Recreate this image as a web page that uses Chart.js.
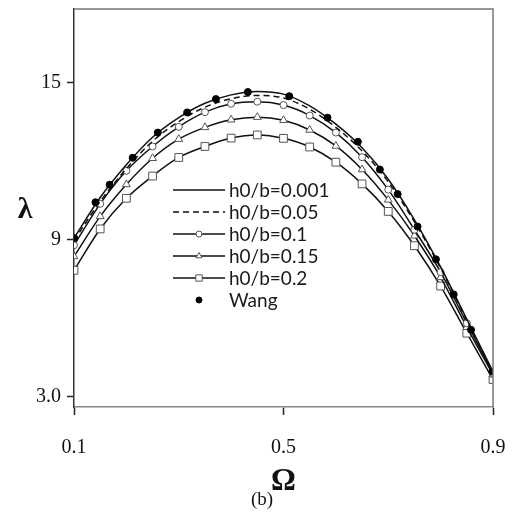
<!DOCTYPE html>
<html>
<head>
<meta charset="utf-8">
<script src="https://cdn.jsdelivr.net/npm/chart.js@4.4.1/dist/chart.umd.min.js"></script>
<style>
  html, body { margin: 0; padding: 0; background: #fff; }
  #wrap { width: 513px; height: 515px; }
</style>
</head>
<body>
<div id="wrap"><canvas id="lambdaChart" width="513" height="515"></canvas></div>
<script>
// Omega grid for the computed curves
const omega = [0.10, 0.15, 0.20, 0.25, 0.30, 0.35, 0.40, 0.45, 0.50, 0.55, 0.60, 0.65, 0.70, 0.75, 0.80, 0.85, 0.90];

// lambda for each h0/b
const h0001 = [9.05, 10.60, 11.85, 12.90, 13.65, 14.20, 14.52, 14.65, 14.55, 14.10, 13.40, 12.50, 11.30, 9.75, 7.95, 5.95, 3.95];
const h0005 = [8.95, 10.45, 11.70, 12.75, 13.50, 14.05, 14.37, 14.50, 14.40, 13.97, 13.28, 12.38, 11.20, 9.67, 7.90, 5.90, 3.93];
const h0010 = [8.78, 10.36, 11.62, 12.55, 13.30, 13.86, 14.18, 14.26, 14.13, 13.73, 13.08, 12.14, 10.90, 9.37, 7.75, 5.80, 3.88];
const h0015 = [8.35, 9.88, 11.10, 12.10, 12.83, 13.28, 13.57, 13.67, 13.55, 13.18, 12.57, 11.67, 10.51, 9.14, 7.55, 5.65, 3.83];
const h0020 = [7.82, 9.40, 10.57, 11.42, 12.13, 12.55, 12.87, 12.99, 12.86, 12.53, 11.95, 11.12, 10.07, 8.76, 7.22, 5.42, 3.65];

// Wang reference points
const wangOmega = [0.100, 0.141, 0.168, 0.212, 0.260, 0.316, 0.371, 0.432, 0.511, 0.584, 0.642, 0.684, 0.718, 0.756, 0.791, 0.825, 0.858, 0.899];
const wangLambda = [9.05, 10.42, 11.09, 12.12, 13.08, 13.85, 14.36, 14.63, 14.47, 13.65, 12.73, 11.67, 10.73, 9.49, 8.24, 6.90, 5.55, 3.95];

const seriesLabels = ['h0/b=0.001', 'h0/b=0.05', 'h0/b=0.1', 'h0/b=0.15', 'h0/b=0.2', 'Wang'];
const xTicks = [0.1, 0.5, 0.9];
const yTicks = [3, 9, 15];

const toXY = (xs, ys) => xs.map((x, i) => ({x: x, y: ys[i]}));

const SERIF = "'Liberation Serif', 'Times New Roman', serif";

function curve(label, values, extra) {
  return Object.assign({
    label: label,
    data: toXY(omega, values),
    borderColor: '#111',
    borderWidth: 1.5,
    cubicInterpolationMode: 'monotone',
    pointRadius: 0,
    pointBorderColor: '#555',
    pointBackgroundColor: '#fff',
    pointBorderWidth: 1,
    fill: false
  }, extra || {});
}

// frame lines on top/right, lambda label, caption and the inset legend
const extras = {
  id: 'extras',
  afterDraw(chart) {
    const {ctx, chartArea: {left, top, right, bottom}} = chart;
    ctx.save();
    ctx.strokeStyle = '#777';
    ctx.lineWidth = 1.5;
    ctx.beginPath();
    ctx.moveTo(left, top);
    ctx.lineTo(right, top);
    ctx.lineTo(right, bottom);
    ctx.stroke();

    ctx.fillStyle = '#111';
    ctx.textAlign = 'center';
    ctx.textBaseline = 'middle';
    ctx.font = "bold 30px " + SERIF;
    ctx.fillText('\u03bb', 25, (top + bottom) / 2 + 2);
    ctx.font = "19px " + SERIF;
    ctx.fillText('(b)', 262, 500);

    // legend
    const x0 = 173, x1 = 225, tx = 229, y0 = 190, dy = 22;
    ctx.font = "19px Lato, 'Open Sans', sans-serif";
    ctx.textAlign = 'left';
    chart.data.datasets.forEach((ds, i) => {
      const y = y0 + i * dy;
      const mid = (x0 + x1) / 2;
      if (ds.showLine !== false) {
        ctx.strokeStyle = ds.borderColor;
        ctx.lineWidth = ds.borderWidth;
        ctx.setLineDash(ds.borderDash || []);
        ctx.beginPath();
        ctx.moveTo(x0, y);
        ctx.lineTo(x1, y);
        ctx.stroke();
        ctx.setLineDash([]);
      }
      if (ds.pointStyle) {
        ctx.strokeStyle = ds.pointBorderColor;
        ctx.fillStyle = ds.pointBackgroundColor;
        ctx.lineWidth = 1;
        Chart.helpers.drawPoint(ctx, {pointStyle: ds.pointStyle, radius: ds.legendRadius, rotation: 0, borderWidth: 1}, mid, y);
      }
      ctx.fillStyle = '#1a1a1a';
      ctx.fillText(ds.label, tx, y + 1);
    });
    ctx.restore();
  }
};

new Chart(document.getElementById('lambdaChart'), {
  type: 'line',
  data: {
    datasets: [
      curve(seriesLabels[0], h0001),
      curve(seriesLabels[1], h0005, {borderDash: [6, 4]}),
      curve(seriesLabels[2], h0010, {pointStyle: 'circle', pointRadius: 3.5, legendRadius: 3}),
      curve(seriesLabels[3], h0015, {pointStyle: 'triangle', pointRadius: 4.5, legendRadius: 3.5}),
      curve(seriesLabels[4], h0020, {pointStyle: 'rect', pointRadius: 5.5, legendRadius: 4.5}),
      {
        label: seriesLabels[5],
        data: toXY(wangOmega, wangLambda),
        showLine: false,
        pointStyle: 'circle',
        pointRadius: 3.5,
        legendRadius: 3,
        pointBorderColor: '#000',
        pointBackgroundColor: '#000',
        order: -1
      }
    ]
  },
  options: {
    responsive: false,
    animation: false,
    layout: {padding: {left: 0, right: 20, top: 9, bottom: 0}},
    plugins: {
      legend: {display: false},
      tooltip: {enabled: false}
    },
    scales: {
      x: {
        type: 'linear',
        min: 0.1,
        max: 0.9,
        afterBuildTicks: (scale) => { scale.ticks = xTicks.map(v => ({value: v})); },
        afterFit: (scale) => { scale.height = 108; scale.paddingLeft = 0; scale.paddingRight = 0; },
        ticks: {
          color: '#111',
          font: {family: SERIF, size: 20},
          padding: 21,
          maxRotation: 0,
          callback: (v) => v.toFixed(1)
        },
        grid: {drawOnChartArea: false, tickLength: 8, tickWidth: 1.5, tickColor: '#222'},
        border: {color: '#888', width: 1.5},
        title: {
          display: true,
          text: '\u03a9',
          color: '#111',
          font: {family: SERIF, size: 31, weight: 'bold', lineHeight: 1},
          padding: {top: 0, bottom: 18}
        }
      },
      y: {
        min: 2.6,
        max: 17.8,
        afterBuildTicks: (scale) => { scale.ticks = yTicks.map(v => ({value: v})); },
        afterFit: (scale) => { scale.width = 74; scale.paddingTop = 0; scale.paddingBottom = 0; },
        ticks: {
          color: '#111',
          font: {family: SERIF, size: 20},
          padding: 6,
          callback: (v) => (v === 3 ? '3.0' : String(v))
        },
        grid: {drawOnChartArea: false, tickLength: 7, tickWidth: 1.5, tickColor: '#222'},
        border: {color: '#333', width: 1.5}
      }
    }
  },
  plugins: [extras]
});
</script>
</body>
</html>
